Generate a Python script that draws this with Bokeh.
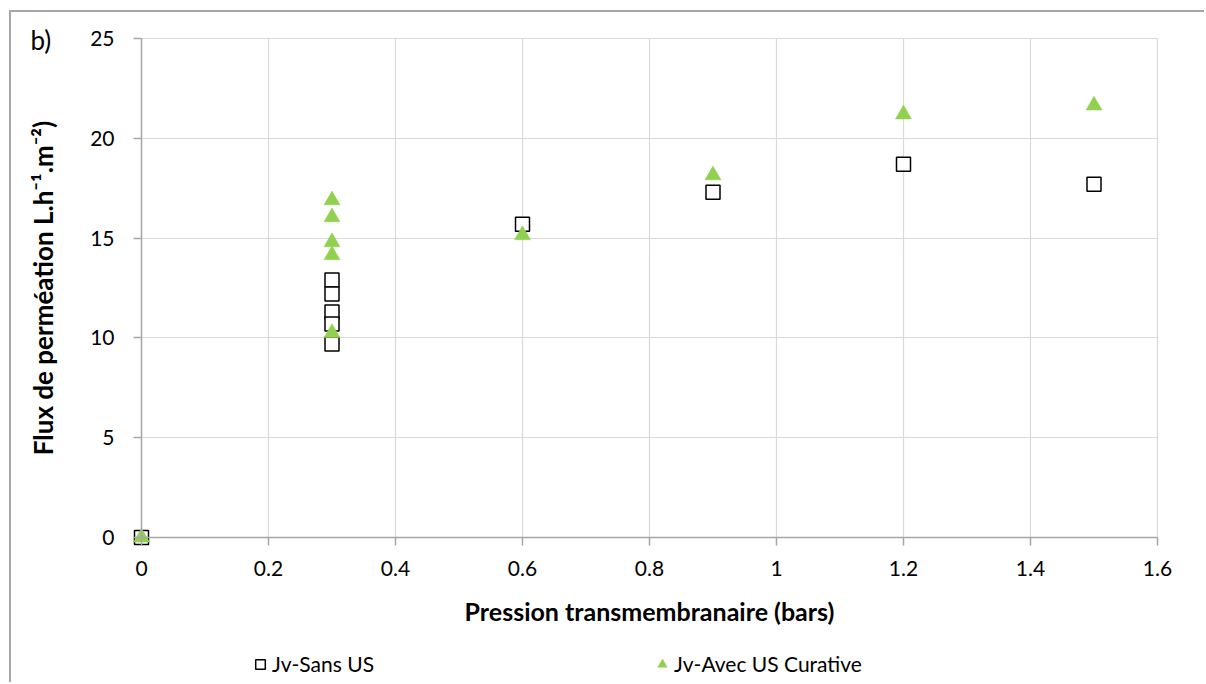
from bokeh.plotting import figure
from bokeh.models import (FixedTicker, CustomJSTickFormatter, Legend, LegendItem,
                          Range1d, Label, LinearAxis, Grid)
from bokeh.embed import file_html
from bokeh.resources import INLINE

# ---- data ----
pressure_sans = [0, 0.3, 0.3, 0.3, 0.3, 0.3, 0.6, 0.9, 1.2, 1.5]
flux_sans = [0, 12.9, 12.2, 11.3, 10.7, 9.7, 15.7, 17.3, 18.7, 17.7]
pressure_avec = [0, 0.3, 0.3, 0.3, 0.3, 0.3, 0.6, 0.9, 1.2, 1.5]
flux_avec = [0, 16.9, 16.05, 14.8, 14.15, 10.25, 15.15, 18.15, 21.2, 21.65]
x_ticks = [0, 0.2, 0.4, 0.6, 0.8, 1, 1.2, 1.4, 1.6]
y_ticks = [0, 5, 10, 15, 20, 25]
label_sans = "Jv-Sans US"
label_avec = "Jv-Avec US Curative"
x_title = "Pression transmembranaire (bars)"
y_title = "Flux de perméation L.h\u207b\u00b9.m\u207b\u00b2)"
panel_tag = "b)"

FONT = "Lato"
AXIS_GREY = "#a6a6a6"
GRID_GREY = "#d9d9d9"

# ---- layout geometry (pixels inside the canvas) ----
W, H = 1195, 672
PLOT_L, PLOT_R, PLOT_T, PLOT_B = 130, 1146, 26, 525
x0, x1 = x_ticks[0], x_ticks[-1]
y0, y1 = y_ticks[0], y_ticks[-1]
sx = (PLOT_R - PLOT_L) / (x1 - x0)
sy = (PLOT_B - PLOT_T) / (y1 - y0)
x_range = Range1d(x0 - PLOT_L / sx, x1 + (W - PLOT_R) / sx)
y_range = Range1d(y0 - (H - PLOT_B) / sy, y1 + PLOT_T / sy)

p = figure(width=W, height=H, output_backend="svg", toolbar_location=None,
           x_range=x_range, y_range=y_range,
           x_axis_location=None, y_axis_location=None, min_border=0)
p.styles = {"margin-left": "9px", "margin-top": "10px",
            "border-left": "2px solid #a6a6a6", "border-top": "2px solid #a6a6a6"}
p.outline_line_color = None
p.background_fill_color = "white"
p.border_fill_color = "white"
p.grid.visible = False

xaxis = LinearAxis(fixed_location=y0, bounds=(x0, x1))
yaxis = LinearAxis(fixed_location=x0, bounds=(y0, y1))
for ax, ticks in ((xaxis, x_ticks), (yaxis, y_ticks)):
    ax.ticker = FixedTicker(ticks=ticks)
    ax.formatter = CustomJSTickFormatter(code="return String(tick);")
    ax.axis_line_color = AXIS_GREY
    ax.axis_line_width = 1.5
    ax.major_tick_line_color = AXIS_GREY
    ax.major_tick_line_width = 1.5
    ax.major_tick_out = 8
    ax.major_tick_in = 0
    ax.minor_tick_line_color = None
    ax.major_label_text_font = FONT
    ax.major_label_text_font_size = "21px"
    ax.major_label_text_color = "black"
    ax.axis_label_text_font = FONT
    ax.axis_label_text_font_style = "bold"
    ax.axis_label_text_color = "black"
xaxis.axis_label = x_title
yaxis.axis_label = y_title
xaxis.axis_label_text_font_size = "25px"
yaxis.axis_label_text_font_size = "26px"
xaxis.major_label_standoff = 15
xaxis.axis_label_standoff = 17
yaxis.major_label_standoff = 19
yaxis.axis_label_standoff = 28
p.add_layout(xaxis, "below")
p.add_layout(yaxis, "left")

xgrid = Grid(dimension=0, ticker=FixedTicker(ticks=x_ticks),
             bounds=(x0, x1), cross_bounds=(y0, y1),
             grid_line_color=GRID_GREY, grid_line_width=1.2, level="underlay")
ygrid = Grid(dimension=1, ticker=FixedTicker(ticks=y_ticks),
             bounds=(y0, y1), cross_bounds=(x0, x1),
             grid_line_color=GRID_GREY, grid_line_width=1.2, level="underlay")
p.add_layout(xgrid)
p.add_layout(ygrid)

r_sans = p.scatter(pressure_sans, flux_sans, marker="square", size=14,
                   fill_color="white", line_color="black", line_width=1.5)
r_avec = p.scatter(pressure_avec, flux_avec, marker="triangle", size=16,
                   fill_color="#92d050", line_color="#92d050", line_width=0.5)

legend = Legend(items=[LegendItem(label=label_sans, renderers=[r_sans]),
                       LegendItem(label=label_avec, renderers=[r_avec])],
                orientation="horizontal", location=(237, 8),
                glyph_width=24, glyph_height=24, label_standoff=0, spacing=276,
                padding=5, margin=0,
                label_text_font=FONT, label_text_font_size="21px",
                label_text_color="black",
                border_line_color=None, background_fill_alpha=0)
p.add_layout(legend, "center")

p.add_layout(Label(x=19, y=H - 11, x_units="screen", y_units="screen",
                   text=panel_tag, text_font=FONT, text_font_size="26px",
                   text_color="black", text_baseline="top"))

open("out.html", "w").write(file_html(p, INLINE))
